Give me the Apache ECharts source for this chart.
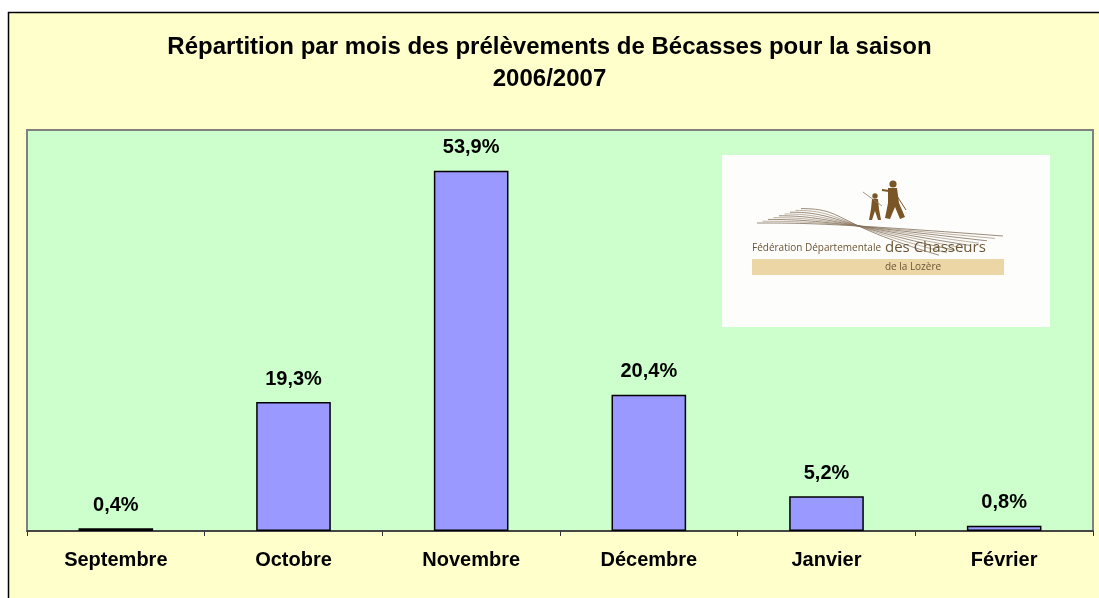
<!DOCTYPE html>
<html>
<head>
<meta charset="utf-8">
<script src="https://cdn.jsdelivr.net/npm/echarts@6/dist/echarts.min.js"></script>
<style>
    html, body { margin: 0; padding: 0; background: #ffffff; }
    #chart { width: 1099px; height: 598px; }
</style>
</head>
<body>
<div id="chart"></div>
<script>
// données
const mois = ['Septembre', 'Octobre', 'Novembre', 'Décembre', 'Janvier', 'Février'];
const pourcentages = [0.4, 19.3, 53.9, 20.4, 5.2, 0.8];
const titre = 'Répartition par mois des prélèvements de Bécasses pour la saison\n2006/2007';

const brun = '#7a5626';
const police = 'Liberation Sans, Arial, sans-serif';

// petit logo de la fédération (décor)
function logoGraphics() {
    const items = [];
    items.push({
        type: 'rect', z: 5,
        shape: { x: 722, y: 155, width: 328, height: 172 },
        style: { fill: '#fdfdfb' }
    });
    // lignes des collines
    for (let i = 0; i < 9; i++) {
        const x1 = 757 + i * 5.5, y1 = 223 - i * 1.8;
        items.push({
            type: 'bezierCurve', z: 6,
            shape: {
                x1: x1, y1: y1,
                cpx1: x1 + 45, cpy1: y1,
                cpx2: 830, cpy2: 223,
                x2: 1003 - i * 8, y2: 236 + i * 2.4
            },
            style: { stroke: i % 2 ? '#a08d76' : '#6e5a44', lineWidth: 0.7, fill: null }
        });
    }
    // chasseur adulte
    items.push({ type: 'circle', z: 7, shape: { cx: 893, cy: 184, r: 3.6 }, style: { fill: brun } });
    items.push({
        type: 'polygon', z: 7,
        shape: { points: [[888, 188], [897, 188], [899, 203], [905, 217], [900, 219], [895, 207], [890, 219], [885, 218], [888, 203]] },
        style: { fill: brun }
    });
    items.push({ type: 'line', z: 7, shape: { x1: 897, y1: 196, x2: 906, y2: 210 }, style: { stroke: brun, lineWidth: 1 } });
    items.push({ type: 'line', z: 7, shape: { x1: 889, y1: 191, x2: 882, y2: 190 }, style: { stroke: brun, lineWidth: 2 } });
    // enfant
    items.push({ type: 'circle', z: 7, shape: { cx: 875, cy: 196, r: 2.7 }, style: { fill: brun } });
    items.push({
        type: 'polygon', z: 7,
        shape: { points: [[872, 199], [878, 199], [879, 209], [881, 220], [878, 220], [875, 211], [872, 220], [869, 220], [871, 209]] },
        style: { fill: brun }
    });
    items.push({ type: 'line', z: 7, shape: { x1: 863, y1: 192, x2: 882, y2: 206 }, style: { stroke: '#8a7a66', lineWidth: 0.8 } });
    // texte
    items.push({
        type: 'text', z: 7,
        style: { x: 752, y: 253, text: 'Fédération Départementale', fill: '#6b5536', font: '10px "Open Sans", sans-serif', verticalAlign: 'bottom' }
    });
    items.push({
        type: 'text', z: 7,
        style: { x: 885, y: 255, text: 'des Chasseurs', fill: '#6b5536', font: '15px "Open Sans", sans-serif', verticalAlign: 'bottom' }
    });
    items.push({
        type: 'rect', z: 6,
        shape: { x: 752, y: 259, width: 252, height: 16 },
        style: { fill: '#ecd6a6' }
    });
    items.push({
        type: 'text', z: 7,
        style: { x: 913, y: 267, text: 'de la Lozère', fill: '#6b5536', font: '10px "Open Sans", sans-serif', align: 'center', verticalAlign: 'middle' }
    });
    return items;
}

const chart = echarts.init(document.getElementById('chart'));

const option = {
    backgroundColor: '#ffffff',
    animation: false,
    title: {
        text: titre,
        left: 'center',
        top: 26,
        textStyle: {
            fontFamily: police,
            fontSize: 24,
            fontWeight: 'bold',
            color: '#000000',
            lineHeight: 32
        }
    },
    graphic: [
        {
            type: 'rect', z: -10,
            shape: { x: 8.5, y: 12.5, width: 1200, height: 700 },
            style: { fill: '#ffffcc', stroke: '#000000', lineWidth: 1.5 }
        }
    ].concat(logoGraphics()),
    grid: {
        left: 27,
        right: 6,
        top: 130,
        bottom: 67,
        show: true,
        backgroundColor: '#ccffcc',
        borderColor: '#808080',
        borderWidth: 2
    },
    xAxis: {
        type: 'category',
        data: mois,
        axisLine: { lineStyle: { color: '#333333', width: 1.5 } },
        axisTick: { show: true, length: 5, lineStyle: { color: '#333333' } },
        axisLabel: {
            margin: 19,
            fontFamily: police,
            fontSize: 20,
            fontWeight: 'bold',
            color: '#000000'
        }
    },
    yAxis: {
        type: 'value',
        min: 0,
        max: 60,
        show: false
    },
    series: [{
        type: 'bar',
        data: pourcentages,
        barWidth: '42%',
        itemStyle: {
            color: '#9999ff',
            borderColor: '#000000',
            borderWidth: 1.5
        },
        label: {
            show: true,
            position: 'top',
            distance: 13,
            formatter: p => String(p.value).replace('.', ',') + '%',
            fontFamily: police,
            fontSize: 20,
            fontWeight: 'bold',
            color: '#000000'
        }
    }]
};

chart.setOption(option);
</script>
</body>
</html>
